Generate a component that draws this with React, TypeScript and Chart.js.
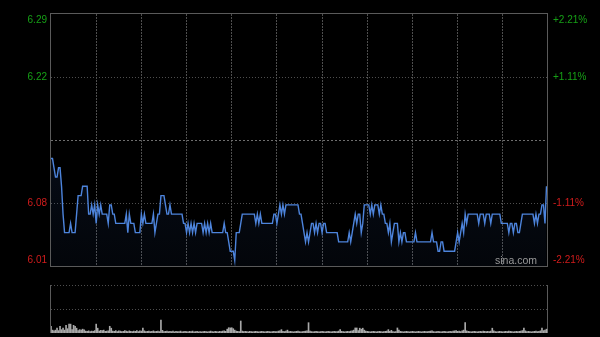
import React, { useEffect, useRef } from 'react';
import { Chart, registerables } from 'chart.js';

Chart.register(...registerables);

// ---- data ----
const PREV_CLOSE = 6.15;
const PRICE_MIN = 6.014;
const PRICE_MAX = 6.286;
const priceTickValues = [6.014, 6.082, 6.15, 6.218, 6.286];
const leftTickLabels = ['6.01', '6.08', '', '6.22', '6.29'];
const rightTickLabels = ['-2.21%', '-1.11%', '', '+1.11%', '+2.21%'];
const timeGridMinutes = [30, 60, 90, 120, 150, 180, 210, 240, 270, 300];
const TOTAL_MINUTES = 330;
const VOLUME_MAX = 1000;

const prices = [
  6.13, 6.13, 6.12, 6.11, 6.11, 6.12, 6.12, 6.10, 6.07, 6.05,
  6.05, 6.05, 6.05, 6.06, 6.05, 6.05, 6.05, 6.07, 6.09, 6.09,
  6.09, 6.10, 6.10, 6.10, 6.10, 6.07, 6.07, 6.08, 6.07, 6.08,
  6.06, 6.08, 6.07, 6.08, 6.07, 6.07, 6.07, 6.07, 6.06, 6.08,
  6.08, 6.07, 6.07, 6.06, 6.06, 6.06, 6.06, 6.06, 6.06, 6.06,
  6.07, 6.05, 6.07, 6.06, 6.06, 6.06, 6.05, 6.05, 6.05, 6.05,
  6.07, 6.06, 6.07, 6.06, 6.06, 6.06, 6.06, 6.06, 6.07, 6.05,
  6.06, 6.07, 6.07, 6.09, 6.09, 6.09, 6.08, 6.07, 6.07, 6.08,
  6.07, 6.07, 6.07, 6.07, 6.07, 6.07, 6.07, 6.07, 6.06, 6.06,
  6.05, 6.06, 6.05, 6.06, 6.05, 6.06, 6.05, 6.06, 6.06, 6.06,
  6.06, 6.05, 6.06, 6.05, 6.06, 6.05, 6.06, 6.05, 6.05, 6.05,
  6.05, 6.05, 6.05, 6.05, 6.05, 6.06, 6.05, 6.05, 6.04, 6.03,
  6.03, 6.03, 6.02, 6.05, 6.05, 6.05, 6.06, 6.07, 6.07, 6.07,
  6.07, 6.07, 6.07, 6.07, 6.07, 6.07, 6.06, 6.07, 6.06, 6.07,
  6.06, 6.06, 6.06, 6.06, 6.06, 6.06, 6.06, 6.06, 6.07, 6.07,
  6.06, 6.07, 6.08, 6.07, 6.08, 6.07, 6.08, 6.08, 6.08, 6.08,
  6.08, 6.08, 6.08, 6.08, 6.08, 6.07, 6.07, 6.06, 6.05, 6.04,
  6.05, 6.04, 6.05, 6.06, 6.06, 6.05, 6.06, 6.05, 6.06, 6.06,
  6.05, 6.06, 6.06, 6.05, 6.05, 6.05, 6.05, 6.05, 6.05, 6.05,
  6.05, 6.04, 6.04, 6.04, 6.04, 6.04, 6.04, 6.04, 6.05, 6.04,
  6.05, 6.06, 6.07, 6.06, 6.07, 6.07, 6.05, 6.06, 6.08, 6.08,
  6.08, 6.08, 6.07, 6.08, 6.07, 6.08, 6.08, 6.08, 6.07, 6.08,
  6.07, 6.07, 6.06, 6.06, 6.05, 6.06, 6.04, 6.05, 6.06, 6.06,
  6.06, 6.04, 6.05, 6.04, 6.05, 6.05, 6.04, 6.04, 6.04, 6.04,
  6.04, 6.04, 6.05, 6.04, 6.04, 6.04, 6.04, 6.04, 6.04, 6.04,
  6.04, 6.04, 6.04, 6.05, 6.04, 6.04, 6.04, 6.03, 6.03, 6.04,
  6.04, 6.03, 6.03, 6.03, 6.03, 6.03, 6.03, 6.03, 6.03, 6.04,
  6.05, 6.04, 6.05, 6.06, 6.05, 6.07, 6.06, 6.07, 6.07, 6.07,
  6.07, 6.07, 6.07, 6.07, 6.06, 6.07, 6.07, 6.07, 6.06, 6.07,
  6.07, 6.07, 6.06, 6.07, 6.07, 6.07, 6.07, 6.07, 6.07, 6.06,
  6.06, 6.06, 6.06, 6.06, 6.05, 6.06, 6.06, 6.05, 6.06, 6.06,
  6.05, 6.05, 6.06, 6.07, 6.07, 6.07, 6.07, 6.07, 6.07, 6.07,
  6.07, 6.06, 6.07, 6.06, 6.07, 6.07, 6.08, 6.08, 6.06, 6.10,
];

const volumes = [
  140, 60, 45, 60, 105, 50, 140, 70, 100, 60,
  160, 90, 185, 185, 70, 160, 140, 100, 50, 70,
  60, 80, 65, 40, 35, 45, 30, 40, 35, 50,
  185, 100, 40, 55, 50, 60, 35, 40, 45, 140,
  100, 40, 35, 50, 30, 45, 40, 30, 35, 50,
  40, 30, 45, 35, 30, 40, 35, 50, 30, 45,
  40, 100, 45, 30, 35, 40, 30, 35, 45, 30,
  35, 40, 30, 270, 55, 30, 35, 40, 30, 35,
  30, 40, 25, 35, 30, 30, 40, 25, 30, 35,
  30, 25, 35, 30, 40, 25, 30, 35, 25, 30,
  25, 30, 35, 30, 25, 30, 40, 30, 25, 35,
  30, 25, 35, 30, 40, 45, 35, 80, 110, 105,
  110, 90, 60, 40, 35, 30, 250, 40, 30, 35,
  30, 25, 35, 30, 25, 30, 35, 30, 25, 30,
  35, 30, 25, 30, 35, 30, 25, 30, 35, 30,
  30, 40, 45, 70, 35, 30, 40, 60, 30, 35,
  30, 25, 30, 35, 40, 30, 25, 30, 35, 40,
  45, 215, 40, 30, 25, 30, 35, 30, 25, 30,
  35, 30, 25, 30, 35, 30, 25, 30, 35, 30,
  30, 40, 70, 35, 30, 25, 30, 35, 30, 40,
  45, 60, 105, 105, 50, 100, 80, 100, 60, 40,
  35, 30, 25, 30, 35, 30, 25, 30, 35, 30,
  25, 30, 35, 40, 70, 35, 55, 30, 25, 30,
  105, 60, 35, 30, 25, 30, 35, 30, 25, 30,
  35, 30, 25, 30, 35, 30, 25, 30, 35, 30,
  30, 35, 40, 45, 30, 25, 30, 35, 30, 25,
  30, 35, 30, 25, 30, 35, 30, 40, 45, 50,
  35, 40, 30, 45, 60, 215, 45, 35, 30, 25,
  30, 35, 30, 25, 30, 35, 30, 40, 35, 30,
  35, 30, 40, 100, 45, 30, 25, 30, 35, 30,
  25, 30, 35, 30, 40, 35, 30, 25, 30, 35,
  30, 35, 40, 50, 100, 45, 30, 35, 30, 25,
  30, 35, 40, 30, 35, 45, 105, 50, 60, 80,
];

// ---- styles ----
const BG = '#000000';
const BORDER = '#5a5a5a';
const GRID = '#4e4e4e';
const MID_GRID = '#6e6e6e';
const UP = '#16a016';
const DOWN = '#d21c1c';
const LINE = '#4d84dc';
const FONT = '10px Arial, "Liberation Sans", sans-serif';

const priceGridPlugin = {
  id: 'priceGrid',
  beforeDatasetsDraw(chart: any) {
    const { ctx, chartArea: a, scales } = chart;
    const x = scales.x;
    const y = scales.y;
    ctx.save();
    ctx.lineWidth = 1;
    // vertical time grid
    ctx.strokeStyle = GRID;
    ctx.setLineDash([2, 1]);
    timeGridMinutes.forEach((m) => {
      const px = Math.floor(x.getPixelForValue(m)) + 0.5;
      ctx.beginPath();
      ctx.moveTo(px, a.top);
      ctx.lineTo(px, a.bottom);
      ctx.stroke();
    });
    // horizontal price grid
    priceTickValues.forEach((v, i) => {
      if (i === 0 || i === priceTickValues.length - 1) return;
      const py = Math.round(y.getPixelForValue(v)) + 0.5;
      const isMid = v === PREV_CLOSE;
      ctx.strokeStyle = isMid ? MID_GRID : GRID;
      ctx.setLineDash(isMid ? [2, 2] : [1, 2]);
      ctx.beginPath();
      ctx.moveTo(a.left, py);
      ctx.lineTo(a.right, py);
      ctx.stroke();
    });
    ctx.restore();
  },
  afterDraw(chart: any) {
    const { ctx, chartArea: a, scales } = chart;
    const y = scales.y;
    ctx.save();
    ctx.lineWidth = 1;
    ctx.setLineDash([]);
    ctx.strokeStyle = BORDER;
    ctx.strokeRect(a.left - 0.5, a.top - 0.5, a.right - a.left, a.bottom - a.top + 1);
    ctx.font = FONT;
    ctx.textBaseline = 'middle';
    const last = priceTickValues.length - 1;
    priceTickValues.forEach((v, i) => {
      if (!leftTickLabels[i]) return;
      let py = y.getPixelForValue(v);
      if (i === 0) py -= 6;
      if (i === last) py += 6;
      ctx.fillStyle = v > PREV_CLOSE ? UP : DOWN;
      ctx.textAlign = 'right';
      ctx.fillText(leftTickLabels[i], a.left - 4, py);
      ctx.textAlign = 'left';
      ctx.fillText(rightTickLabels[i], a.right + 5, py);
    });
    ctx.fillStyle = '#9a9a9a';
    ctx.font = '10.5px Arial, "Liberation Sans", sans-serif';
    ctx.textAlign = 'right';
    ctx.fillText('sina.com', a.right - 11, a.bottom - 5);
    ctx.restore();
  },
};

const volumeGridPlugin = {
  id: 'volumeGrid',
  beforeDatasetsDraw(chart: any) {
    const { ctx, chartArea: a, scales } = chart;
    const y = scales.y;
    ctx.save();
    ctx.lineWidth = 1;
    ctx.strokeStyle = GRID;
    ctx.setLineDash([1, 2]);
    [VOLUME_MAX, VOLUME_MAX / 2].forEach((v) => {
      const py = Math.round(y.getPixelForValue(v)) + 0.5;
      ctx.beginPath();
      ctx.moveTo(a.left, py);
      ctx.lineTo(a.right, py);
      ctx.stroke();
    });
    ctx.setLineDash([]);
    ctx.strokeStyle = BORDER;
    [a.left - 0.5, a.right - 0.5].forEach((px) => {
      ctx.beginPath();
      ctx.moveTo(px, a.top);
      ctx.lineTo(px, a.bottom);
      ctx.stroke();
    });
    ctx.restore();
  },
};

export default function App() {
  const priceRef = useRef<HTMLCanvasElement>(null);
  const volRef = useRef<HTMLCanvasElement>(null);

  useEffect(() => {
    document.body.style.margin = '0';
    document.body.style.background = BG;
    const priceChart = new Chart(priceRef.current as HTMLCanvasElement, {
      type: 'line',
      data: {
        datasets: [
          {
            data: prices.map((p, i) => ({ x: i, y: p })),
            borderColor: LINE,
            borderWidth: 1.4,
            pointRadius: 0,
            tension: 0,
            fill: 'start',
            backgroundColor: (c: any) => {
              const area = c.chart.chartArea;
              if (!area) return 'rgba(50,90,170,0.12)';
              const g = c.chart.ctx.createLinearGradient(0, area.top, 0, area.bottom);
              g.addColorStop(0, 'rgba(50,90,170,0.22)');
              g.addColorStop(1, 'rgba(50,90,170,0.06)');
              return g;
            },
          },
        ],
      },
      options: {
        responsive: false,
        animation: false,
        devicePixelRatio: 1,
        layout: { padding: { left: 51, right: 52, top: 14, bottom: 9 } },
        scales: {
          x: { type: 'linear', min: 0, max: TOTAL_MINUTES, display: false },
          y: { type: 'linear', min: PRICE_MIN, max: PRICE_MAX, display: false },
        },
        plugins: { legend: { display: false }, tooltip: { enabled: false } },
      },
      plugins: [priceGridPlugin],
    } as any);

    const volChart = new Chart(volRef.current as HTMLCanvasElement, {
      type: 'bar',
      data: {
        datasets: [
          {
            data: volumes.map((v, i) => ({ x: i, y: v })),
            backgroundColor: '#a8a8a8',
            barThickness: 1,
            borderWidth: 0,
          },
        ],
      },
      options: {
        responsive: false,
        animation: false,
        devicePixelRatio: 1,
        layout: { padding: { left: 51, right: 52, top: 10, bottom: 4 } },
        scales: {
          x: { type: 'linear', min: 0, max: TOTAL_MINUTES, display: false, offset: false },
          y: { type: 'linear', min: 0, max: VOLUME_MAX, display: false },
        },
        plugins: { legend: { display: false }, tooltip: { enabled: false } },
      },
      plugins: [volumeGridPlugin],
    } as any);

    return () => {
      priceChart.destroy();
      volChart.destroy();
    };
  }, []);

  return (
    <div style={{ position: 'relative', width: 600, height: 337, background: BG, overflow: 'hidden' }}>
      <canvas ref={priceRef} width={600} height={275} style={{ position: 'absolute', left: 0, top: 0, width: 600, height: 275 }} />
      <canvas ref={volRef} width={600} height={62} style={{ position: 'absolute', left: 0, top: 275, width: 600, height: 62 }} />
    </div>
  );
}
